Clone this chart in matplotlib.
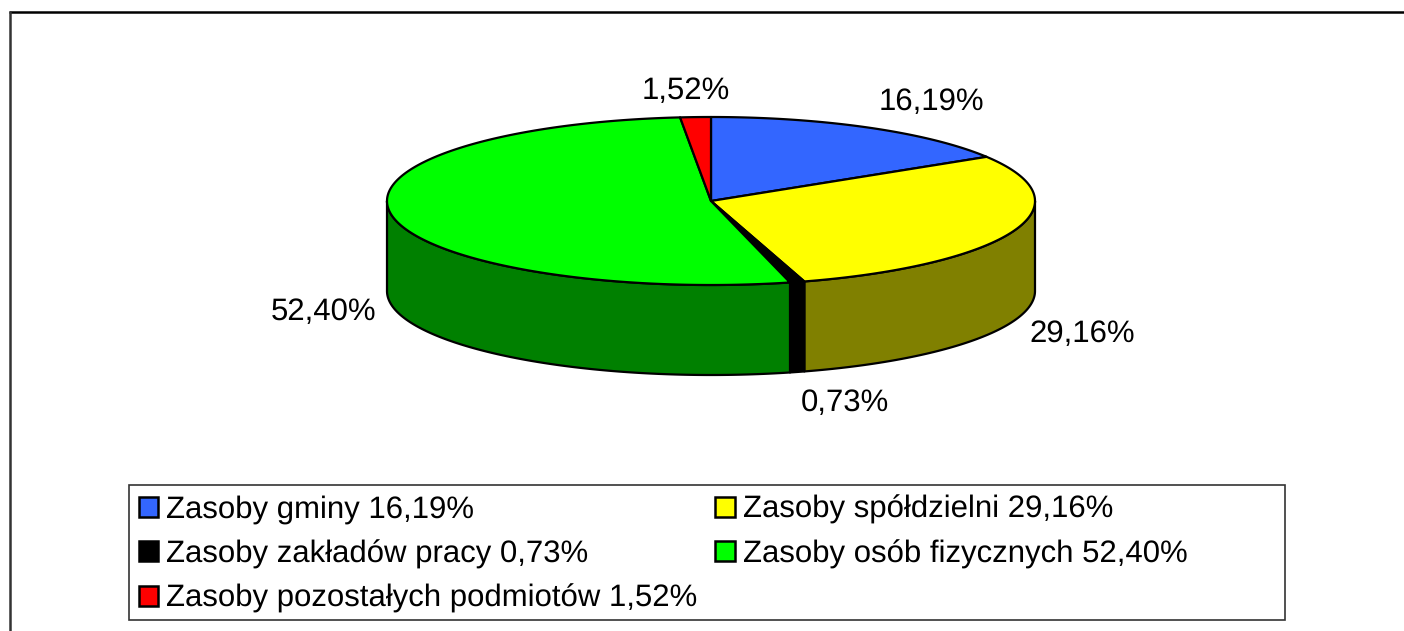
import numpy as np
import matplotlib
matplotlib.use("Agg")
import matplotlib.pyplot as plt
from matplotlib.patches import Patch, Polygon, Rectangle

plt.rcParams['font.family'] = ['Liberation Sans', 'DejaVu Sans']
plt.rcParams['text.hinting'] = 'none'

names = ["Zasoby gminy", "Zasoby spółdzielni", "Zasoby zakładów pracy",
         "Zasoby osób fizycznych", "Zasoby pozostałych podmiotów"]
values = [16.19, 29.16, 0.73, 52.40, 1.52]
value_labels = ["16,19%", "29,16%", "0,73%", "52,40%", "1,52%"]
top_colors = ["#3366ff", "#ffff00", "#000000", "#00ff00", "#ff0000"]
side_colors = ["#1a3380", "#808000", "#000000", "#008000", "#800000"]

# where the labels sit, in pixels
label_xy = [(931, 102), (1082, 334), (845, 403), (324, 312), (686, 91)]

cx, cy, rx, ry, depth = 711, 201, 324, 84, 90
lw = 1.6
fs = 22.45

fig = plt.figure(figsize=(14.04, 6.31), dpi=100)
ax = fig.add_axes([0, 0, 1, 1])
ax.set_xlim(0, 1404)
ax.set_ylim(631, 0)
ax.axis("off")

# outer frame, only top and left are in the picture
ax.plot([1404, 9], [11.5, 11.5], color="black", lw=1.8, solid_capstyle="butt")
ax.plot([9.8, 9.8], [631, 11], color="#333333", lw=1.8, solid_capstyle="butt")

edges = np.cumsum([0] + values) / sum(values) * 2 * np.pi


def rim(a, b):
    t = np.linspace(a, b, max(int((b - a) * 120), 2))
    return cx + rx * np.sin(t), cy - ry * np.cos(t)


# side walls first, only the front half can be seen
for i in range(len(values)):
    a = max(edges[i], np.pi / 2)
    b = min(edges[i + 1], 3 * np.pi / 2)
    if b <= a:
        continue
    x, y = rim(a, b)
    pts = np.r_[np.c_[x, y], np.c_[x, y + depth][::-1]]
    ax.add_patch(Polygon(pts, closed=True, fc=side_colors[i], ec="black", lw=lw, joinstyle="round"))

# top of the pie
for i in range(len(values)):
    x, y = rim(edges[i], edges[i + 1])
    pts = np.r_[[[cx, cy]], np.c_[x, y]]
    ax.add_patch(Polygon(pts, closed=True, fc=top_colors[i], ec="black", lw=lw, joinstyle="round"))

for txt, (x, y) in zip(value_labels, label_xy):
    ax.text(x, y, txt, fontsize=fs, ha="center", va="center", color="black")

# legend box
ax.add_patch(Rectangle((129, 485), 1156, 135, fc="white", ec="#333333", lw=1.2))

handles = [Patch(fc=c, ec="black", lw=1.8) for c in top_colors]
labels = [n + " " + v for n, v in zip(names, value_labels)]
order = [0, 2, 4, 1, 3]
ax.legend([handles[i] for i in order], [labels[i] for i in order],
          ncol=2, loc="upper left", bbox_to_anchor=(138.5, 495), bbox_transform=ax.transData,
          frameon=False, fontsize=fs, borderpad=0, borderaxespad=0,
          handlelength=0.62, handleheight=0.62, handletextpad=0.26,
          labelspacing=0.49, columnspacing=0.58)

fig.savefig("out.png", dpi=100)
